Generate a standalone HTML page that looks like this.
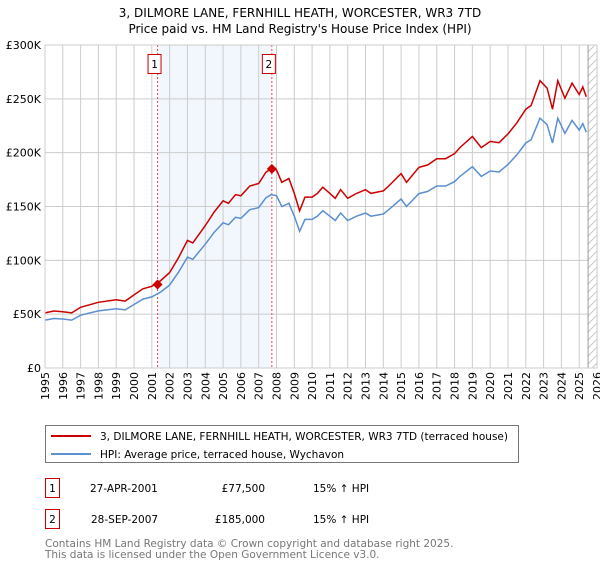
<!DOCTYPE html>
<html><head><meta charset="utf-8"><style>
body{margin:0;background:#fff;font-family:"DejaVu Sans","Liberation Sans",sans-serif;}
svg text{font-family:"DejaVu Sans","Liberation Sans",sans-serif;}
</style></head><body>
<svg id="c" width="600" height="560" xmlns="http://www.w3.org/2000/svg">
<defs><clipPath id="pc"><rect x="45" y="45" width="552" height="323"/></clipPath></defs>
<text x="300" y="17" text-anchor="middle" font-size="12">3, DILMORE LANE, FERNHILL HEATH, WORCESTER, WR3 7TD</text>
<text x="300" y="33" text-anchor="middle" font-size="12">Price paid vs. HM Land Registry's House Price Index (HPI)</text>
<g id="grid"></g><g id="marks"></g>
<g>
<rect x="45.5" y="425.5" width="473" height="37" fill="#fff" stroke="#777"/>
<line x1="51" y1="436" x2="91" y2="436" stroke="#cc0000" stroke-width="2"/>
<text x="100" y="440" font-size="10.5">3, DILMORE LANE, FERNHILL HEATH, WORCESTER, WR3 7TD (terraced house)</text>
<line x1="51" y1="454" x2="91" y2="454" stroke="#5b8fd0" stroke-width="2"/>
<text x="100" y="458" font-size="10.5">HPI: Average price, terraced house, Wychavon</text>
</g>
<g font-size="10.5">
<rect x="45.5" y="478.5" width="14" height="19" fill="none" stroke="#cc0000"/><text x="52.5" y="492" text-anchor="middle">1</text>
<text x="90" y="492">27-APR-2001</text><text x="265" y="492" text-anchor="end">£77,500</text><text x="313" y="492">15% ↑ HPI</text>
<rect x="45.5" y="509.5" width="14" height="19" fill="none" stroke="#cc0000"/><text x="52.5" y="523" text-anchor="middle">2</text>
<text x="91" y="523">28-SEP-2007</text><text x="265" y="523" text-anchor="end">£185,000</text><text x="313" y="523">15% ↑ HPI</text>
</g>
<text x="45" y="547" font-size="10.5" fill="#777">Contains HM Land Registry data © Crown copyright and database right 2025.</text>
<text x="45" y="558" font-size="10.5" fill="#777">This data is licensed under the Open Government Licence v3.0.</text>
</svg>
<script>
const times=[1995,1995.5,1996,1996.5,1997,1998,1999,1999.5,2000,2000.5,2001,2001.5,2002,2002.5,2003,2003.3,2004,2004.5,2005,2005.3,2005.7,2006,2006.5,2007,2007.4,2007.7,2008,2008.3,2008.7,2009,2009.3,2009.6,2010,2010.3,2010.6,2011,2011.3,2011.6,2012,2012.5,2013,2013.3,2014,2014.3,2015,2015.3,2016,2016.5,2017,2017.5,2018,2018.3,2019,2019.5,2020,2020.5,2021,2021.5,2022,2022.3,2022.8,2023.2,2023.5,2023.8,2024.2,2024.6,2025,2025.2,2025.4];
const hpi=[44.5,46,45.5,44.5,49,53,55,54,59,64,66,70.6,77,89,103,101,115,126,135,133,140,139,147,149,158,161,160,150,153,141,127,138,138,141,146,141,137,144,137,141,144,141,143,147,157,150,162,164,169,169,173,178,187,178,183,182,189,198,209,212,232,226,209,232,218,230,221,227,219];
const prop=[51.2,52.9,52.3,51.2,56.4,61,63.3,62.1,67.9,73.6,75.9,81.2,88.6,102.4,118.5,116.2,132.3,144.9,155.3,153,161,159.9,169,171.4,181.7,185.2,184,172.5,176,162.2,146,158.7,158.7,162.2,167.9,162.2,157.6,165.6,157.6,162.2,165.6,162.2,164.5,169,180.6,172.5,186.3,188.6,194.4,194.4,199,204.7,215,204.7,210.5,209.3,217.4,227.7,240.4,243.8,266.8,260,240.4,266.8,250.7,264.5,254,261,251.9];
const saleTimes=[2001.32,2007.74];
const salePrices=[77.5,185];
const saleLabels=["1","2"];
const yTicks=[0,50,100,150,200,250,300];
const yTickLabels=["£0","£50K","£100K","£150K","£200K","£250K","£300K"];
const years=[];for(let y=1995;y<=2026;y++)years.push(y);
const L=45,R=597,T=45,B=368;
const x=t=>L+(t-1995)*(R-L)/31;
const y=v=>B-v/300*(B-T);
const NS="http://www.w3.org/2000/svg";
function mk(tag,attrs,parent,txt){const e=document.createElementNS(NS,tag);for(const k in attrs)e.setAttribute(k,attrs[k]);if(txt!==undefined)e.textContent=txt;parent.appendChild(e);return e;}
const g=document.getElementById('grid'),m=document.getElementById('marks');
let sh=mk('rect',{x:x(saleTimes[0]),y:T,width:x(saleTimes[1])-x(saleTimes[0]),height:B-T,fill:'#f2f6fd'},g);


years.forEach(yr=>{
 let l=mk('line',{x1:x(yr),x2:x(yr),y1:T,y2:B,stroke:'#ccc','stroke-width':1},g);
 
 
 let t=mk('text',{x:0,y:0,'font-size':'11','text-anchor':'end',transform:`translate(${x(yr)+4},372) rotate(-90)`},g,String(yr));
 
 
});
yTicks.forEach((v,i)=>{
 let l=mk('line',{x1:L,x2:R,y1:y(v),y2:y(v),stroke:'#ccc','stroke-width':1},g);
 
 
 let t=mk('text',{x:L-4,y:y(v)+4,'font-size':'11','text-anchor':'end'},g,yTickLabels[i]);
 
 
});
const hx=x(2025.5);
const hg=mk('g',{'clip-path':'url(#pc)'},g);
let hr=mk('rect',{x:hx,y:T,width:R-hx,height:B-T,fill:'#fff'},hg);


for(let yy=T-10;yy<B+10;yy+=8){mk('line',{x1:hx,y1:yy+9,x2:R,y2:yy,stroke:'#bbb','stroke-width':0.8},hg);}
mk('line',{x1:hx,x2:hx,y1:T,y2:B,stroke:'#999'},g);
saleTimes.forEach((t,i)=>{
 let l=mk('line',{x1:x(t),x2:x(t),y1:T,y2:B,stroke:'#e05050','stroke-dasharray':'2,2','stroke-width':1},m);
 
 
});
function path(vals,color,name){
 const d=times.map((t,i)=>(i?'L':'M')+x(t).toFixed(1)+','+y(vals[i]).toFixed(1)).join('');
 let p=mk('path',{d:d,fill:'none',stroke:color,'stroke-width':1.5},m);
 
 
}
path(hpi,'#5b8fd0','hpi-line');
path(prop,'#cc0000','property-price-line');
saleTimes.forEach((t,i)=>{
 const cx=x(t),cy=y(salePrices[i]);
 let p=mk('path',{d:`M${cx},${cy-5}L${cx+5},${cy}L${cx},${cy+5}L${cx-5},${cy}Z`,fill:'#cc0000'},m);
 
 
 let r=mk('rect',{x:cx-9.5,y:54.5,width:13,height:19,fill:'#fff',stroke:'#cc0000'},m);
 
 
 let tx=mk('text',{x:cx-3,y:68,'font-size':'10.5','text-anchor':'middle'},m,saleLabels[i]);
 
 
});
let ax=mk('rect',{x:L,y:T,width:R-L,height:B-T,fill:'none',stroke:'#ccc'},m);


</script>
</body></html>
